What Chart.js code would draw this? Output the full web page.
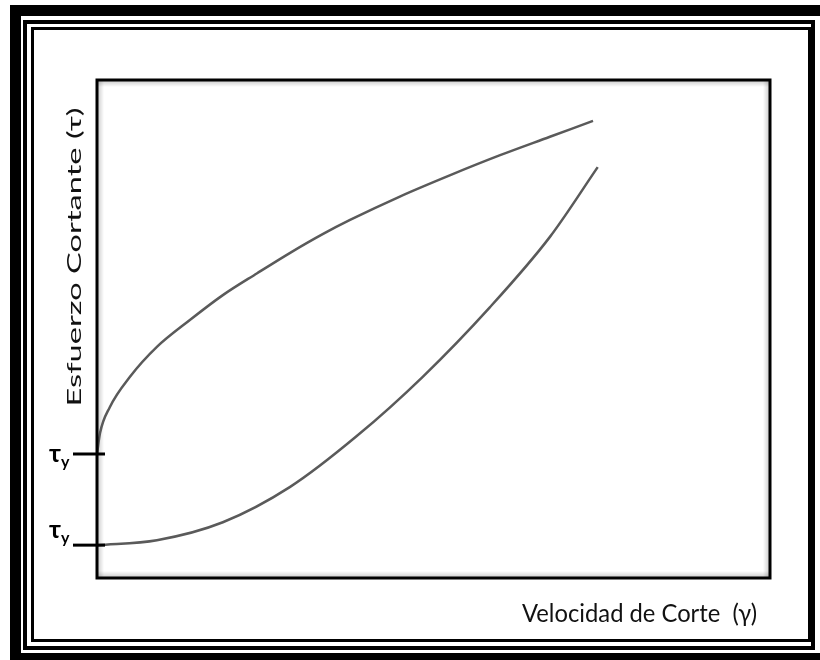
<!DOCTYPE html>
<html>
<head>
<meta charset="utf-8">
<script src="https://cdn.jsdelivr.net/npm/chart.js@4"></script>
<style>
  html, body { margin: 0; padding: 0; background: #fff; overflow: hidden; }
  #wrap { position: relative; width: 820px; height: 660px; overflow: hidden; }
  #chart { position: absolute; left: 0; top: 0; }
  .frame { position: absolute; box-sizing: border-box; border-style: solid; border-color: #000; pointer-events: none; }
</style>
</head>
<body>
<div id="wrap">
  <canvas id="chart" width="820" height="660"></canvas>
  <div class="frame" style="left:10px; top:5px; width:840px; height:659px; border-width:11px;"></div>
  <div class="frame" style="left:23px; top:20px; width:792px; height:630px; border-width:4px;"></div>
  <div class="frame" style="left:31px; top:27px; width:780px; height:615px; border-width:3px;"></div>
</div>
<script>
// Curva superior (pseudoplástico con punto de cedencia)
const upperX = [0, 0.45, 1.9, 4.9, 8.9, 13.8, 18.7, 23.8, 28.7, 33.6, 37.6, 45.0, 52.5, 59.9, 67.3, 73.7];
const upperY = [24.9, 29.1, 34.3, 40.4, 46.4, 51.8, 56.8, 61.2, 65.3, 69.1, 71.9, 76.6, 80.9, 84.9, 88.6, 91.8];

// Curva inferior (dilatante con punto de cedencia)
const lowerX = [0, 8.9, 18.7, 28.7, 38.6, 48.4, 58.4, 67.3, 74.4];
const lowerY = [6.6, 7.6, 11.2, 18.3, 28.5, 40.4, 54.4, 68.5, 82.5];

// Esfuerzos de cedencia marcados en el eje
const yieldValues = [24.9, 6.6];
const yieldLabels = ['τ', 'τ'];
const yieldSub = ['y', 'y'];

const xTitle = 'Velocidad de Corte  (γ)';
const yTitle = 'Esfuerzo Cortante (τ)';

const toPoints = (xs, ys) => xs.map((x, i) => ({ x: x, y: ys[i] }));

const lineColor = '#5a5a5a';
const fontFamily = 'Lato, "Open Sans", sans-serif';

const frameBox = {
  id: 'frameBox',
  beforeDatasetsDraw(chart) {
    const { ctx, chartArea: a } = chart;
    ctx.save();
    // sombra interior del recuadro
    const s = 7;
    let g = ctx.createLinearGradient(a.left, 0, a.left + s, 0);
    g.addColorStop(0, 'rgba(0,0,0,0.22)'); g.addColorStop(1, 'rgba(0,0,0,0)');
    ctx.fillStyle = g; ctx.fillRect(a.left, a.top, s, a.bottom - a.top);
    g = ctx.createLinearGradient(a.right, 0, a.right - s, 0);
    g.addColorStop(0, 'rgba(0,0,0,0.22)'); g.addColorStop(1, 'rgba(0,0,0,0)');
    ctx.fillStyle = g; ctx.fillRect(a.right - s, a.top, s, a.bottom - a.top);
    g = ctx.createLinearGradient(0, a.top, 0, a.top + s);
    g.addColorStop(0, 'rgba(0,0,0,0.22)'); g.addColorStop(1, 'rgba(0,0,0,0)');
    ctx.fillStyle = g; ctx.fillRect(a.left, a.top, a.right - a.left, s);
    g = ctx.createLinearGradient(0, a.bottom, 0, a.bottom - s);
    g.addColorStop(0, 'rgba(0,0,0,0.22)'); g.addColorStop(1, 'rgba(0,0,0,0)');
    ctx.fillStyle = g; ctx.fillRect(a.left, a.bottom - s, a.right - a.left, s);
    ctx.restore();
  },
  afterDraw(chart) {
    const { ctx, chartArea: a, scales } = chart;
    ctx.save();
    ctx.strokeStyle = '#000';
    ctx.lineWidth = 3;
    ctx.strokeRect(a.left, a.top, a.right - a.left, a.bottom - a.top);

    // marcas de cedencia
    const labelShift = [8, -7];
    yieldValues.forEach((v, i) => {
      const py = scales.y.getPixelForValue(v);
      ctx.beginPath();
      ctx.moveTo(a.left - 24, py);
      ctx.lineTo(a.left + 8, py);
      ctx.stroke();
      ctx.fillStyle = '#000';
      ctx.textAlign = 'left';
      ctx.textBaseline = 'alphabetic';
      ctx.font = 'bold 25px ' + fontFamily;
      ctx.fillText(yieldLabels[i], a.left - 48, py + labelShift[i]);
      ctx.font = 'bold 16px ' + fontFamily;
      ctx.fillText(yieldSub[i], a.left - 36, py + labelShift[i] + 5);
    });

    // títulos de los ejes
    ctx.fillStyle = '#111';
    ctx.font = '25px ' + fontFamily;
    ctx.textAlign = 'right';
    const xw = ctx.measureText(xTitle).width;
    ctx.translate(a.right - 13, a.bottom + 44);
    ctx.scale(235 / xw, 1);
    ctx.fillText(xTitle, 0, 0);
    ctx.setTransform(1, 0, 0, 1, 0, 0);

    ctx.translate(a.left - 16, 257);
    ctx.rotate(-Math.PI / 2);
    ctx.font = '19px ' + fontFamily;
    const w = ctx.measureText(yTitle).width;
    ctx.scale(299 / w, 1);
    ctx.textAlign = 'center';
    ctx.fillText(yTitle, 0, 0);
    ctx.restore();
  }
};

new Chart(document.getElementById('chart'), {
  type: 'scatter',
  data: {
    datasets: [
      {
        data: toPoints(upperX, upperY),
        showLine: true,
        borderColor: lineColor,
        borderWidth: 2.5,
        pointRadius: 0,
        cubicInterpolationMode: 'monotone'
      },
      {
        data: toPoints(lowerX, lowerY),
        showLine: true,
        borderColor: lineColor,
        borderWidth: 2.5,
        pointRadius: 0,
        cubicInterpolationMode: 'monotone'
      }
    ]
  },
  options: {
    responsive: false,
    animation: false,
    layout: { padding: { left: 97, top: 80, right: 50, bottom: 82 } },
    plugins: { legend: { display: false }, tooltip: { enabled: false } },
    scales: {
      x: { type: 'linear', min: 0, max: 100, display: false },
      y: { type: 'linear', min: 0, max: 100, display: false }
    }
  },
  plugins: [frameBox]
});
</script>
</body>
</html>
